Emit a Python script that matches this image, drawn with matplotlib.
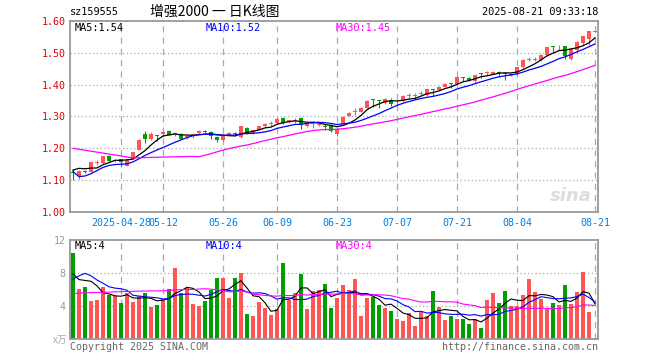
import numpy as np
import pandas as pd
import matplotlib
matplotlib.use('Agg')
import matplotlib.pyplot as plt

# ---------------- data ----------------
holidays = ['2025-05-01', '2025-05-02', '2025-05-05', '2025-06-02']
dates = [d.strftime('%Y-%m-%d') for d in pd.bdate_range('2025-04-16', '2025-08-21')
         if d.strftime('%Y-%m-%d') not in holidays]

opens = [1.127, 1.114, 1.128, 1.127, 1.154, 1.154, 1.175, 1.160, 1.167, 1.146,
         1.166, 1.196, 1.246, 1.230, 1.241, 1.246, 1.253, 1.244, 1.246, 1.235,
         1.240, 1.248, 1.256, 1.250, 1.236, 1.225, 1.243, 1.248, 1.236, 1.265,
         1.248, 1.259, 1.269, 1.278, 1.280, 1.295, 1.283, 1.287, 1.296, 1.269,
         1.277, 1.274, 1.268, 1.269, 1.246, 1.278, 1.301, 1.314, 1.314, 1.328,
         1.355, 1.351, 1.341, 1.352, 1.344, 1.348, 1.364, 1.364, 1.372, 1.366,
         1.385, 1.383, 1.394, 1.404, 1.402, 1.424, 1.422, 1.411, 1.437, 1.436,
         1.435, 1.438, 1.437, 1.428, 1.433, 1.454, 1.479, 1.479, 1.476, 1.493,
         1.521, 1.520, 1.520, 1.482, 1.509, 1.530, 1.545, 1.566]
highs = [1.135, 1.131, 1.131, 1.158, 1.162, 1.177, 1.179, 1.167, 1.168, 1.166,
         1.189, 1.228, 1.254, 1.250, 1.241, 1.254, 1.258, 1.251, 1.248, 1.242,
         1.248, 1.258, 1.258, 1.254, 1.237, 1.240, 1.250, 1.252, 1.270, 1.267,
         1.259, 1.271, 1.280, 1.285, 1.295, 1.297, 1.290, 1.296, 1.298, 1.282,
         1.286, 1.280, 1.276, 1.276, 1.263, 1.300, 1.314, 1.326, 1.330, 1.352,
         1.356, 1.351, 1.358, 1.358, 1.352, 1.366, 1.374, 1.374, 1.380, 1.387,
         1.385, 1.396, 1.404, 1.404, 1.427, 1.425, 1.424, 1.431, 1.437, 1.444,
         1.443, 1.442, 1.437, 1.436, 1.456, 1.480, 1.486, 1.486, 1.495, 1.520,
         1.521, 1.526, 1.522, 1.514, 1.537, 1.554, 1.570, 1.570]
lows = [1.099, 1.104, 1.121, 1.125, 1.148, 1.152, 1.158, 1.157, 1.145, 1.144,
        1.165, 1.194, 1.218, 1.226, 1.222, 1.236, 1.242, 1.240, 1.228, 1.228,
        1.232, 1.246, 1.248, 1.229, 1.219, 1.223, 1.241, 1.240, 1.233, 1.246,
        1.246, 1.258, 1.267, 1.270, 1.278, 1.277, 1.281, 1.280, 1.262, 1.268,
        1.264, 1.270, 1.258, 1.252, 1.240, 1.276, 1.300, 1.305, 1.313, 1.326,
        1.330, 1.326, 1.340, 1.334, 1.332, 1.346, 1.357, 1.356, 1.366, 1.364,
        1.364, 1.380, 1.392, 1.388, 1.400, 1.410, 1.413, 1.405, 1.420, 1.430,
        1.433, 1.425, 1.415, 1.426, 1.431, 1.452, 1.474, 1.474, 1.474, 1.491,
        1.503, 1.510, 1.482, 1.478, 1.500, 1.520, 1.525, 1.564]
closes = [1.124, 1.129, 1.126, 1.156, 1.157, 1.175, 1.161, 1.163, 1.156, 1.164,
          1.187, 1.227, 1.230, 1.245, 1.240, 1.252, 1.243, 1.246, 1.230, 1.238,
          1.246, 1.256, 1.250, 1.238, 1.225, 1.238, 1.248, 1.246, 1.269, 1.248,
          1.257, 1.269, 1.278, 1.281, 1.293, 1.280, 1.288, 1.289, 1.272, 1.280,
          1.280, 1.277, 1.266, 1.256, 1.261, 1.299, 1.312, 1.317, 1.328, 1.350,
          1.353, 1.349, 1.356, 1.339, 1.347, 1.364, 1.367, 1.367, 1.375, 1.385,
          1.382, 1.394, 1.402, 1.402, 1.425, 1.421, 1.415, 1.429, 1.435, 1.439,
          1.441, 1.436, 1.435, 1.433, 1.454, 1.478, 1.482, 1.482, 1.493, 1.518,
          1.519, 1.523, 1.490, 1.512, 1.535, 1.552, 1.568, 1.568]
# volume in 万 (10k) units
volumes = [10.48, 6.12, 6.36, 4.56, 4.68, 6.36, 5.36, 5.20, 4.32, 5.60,
           4.44, 5.16, 5.56, 3.88, 4.08, 4.88, 6.12, 8.64, 5.52, 6.20,
           4.20, 3.96, 4.60, 5.88, 7.44, 7.44, 4.96, 7.44, 8.04, 3.00,
           2.76, 4.44, 3.72, 2.88, 3.60, 9.24, 4.68, 5.52, 7.92, 3.60,
           5.76, 5.88, 6.72, 3.72, 4.92, 6.60, 5.88, 7.32, 2.76, 4.92,
           5.04, 4.08, 3.72, 3.36, 2.40, 2.16, 3.12, 1.56, 3.24, 2.76,
           5.76, 3.84, 2.28, 2.76, 2.40, 2.40, 1.80, 2.40, 1.32, 4.68,
           5.52, 4.32, 5.76, 3.96, 3.96, 5.28, 7.32, 5.64, 4.80, 3.60,
           4.32, 4.08, 6.60, 4.20, 5.64, 8.16, 3.24, 0.12]
# closes / volumes of the 29 sessions before the first bar (feed the moving averages)
prior_closes = [1.219, 1.216, 1.246, 1.247, 1.265, 1.251, 1.253, 1.246, 1.254, 1.277,
                1.213, 1.216, 1.231, 1.226, 1.238, 1.229, 1.232, 1.216, 1.224, 1.232,
                1.289, 1.106, 1.086, 1.057, 1.075, 1.101, 1.133, 1.146, 1.154]
prior_volumes = [4.1, 5.3, 3.8, 4.4, 5.6, 4.9, 4.2, 3.6, 4.8, 3.9,
                 4.5, 5.1, 3.5, 4.0, 4.6, 5.2, 6.3, 4.7, 5.0, 4.9,
                 2.12, 3.36, 7.56, 9.68, 10.36, 9.6, 6.86, 5.06, 7.48]

tick_dates = ['2025-04-28', '2025-05-12', '2025-05-26', '2025-06-09', '2025-06-23',
              '2025-07-07', '2025-07-21', '2025-08-04', '2025-08-21']
tick_labels = ['2025-04-28', '05-12', '05-26', '06-09', '06-23', '07-07', '07-21', '08-04', '08-21']
price_ticks = [1.00, 1.10, 1.20, 1.30, 1.40, 1.50, 1.60]
vol_ticks = [4, 8, 12]
ma_periods = [5, 10, 30]
ma_colors = ['#000000', '#0000ff', '#ff00ff']
ma_labels = ['MA5:1.54', 'MA10:1.52', 'MA30:1.45']
vol_ma_labels = ['MA5:4', 'MA10:4', 'MA30:4']
title_code = 'sz159555'
title_text = '增强2000 一 日K线图'
timestamp = '2025-08-21 09:33:18'

# ---------------- figure ----------------
W, H = 660, 360
fig = plt.figure(figsize=(W / 100, H / 100), dpi=100)
fig.patch.set_facecolor('white')
mono = 'DejaVu Sans Mono'
RED = '#ff5555'
GREEN = '#00a000'


def px_ax(l, t, r, b):
    return fig.add_axes([l / W, 1 - b / H, (r - l) / W, (b - t) / H])


ax = px_ax(70, 21, 598, 212)
axv = px_ax(70, 240, 598, 339)

n = len(closes)
x = np.arange(n)
o = np.array(opens); c = np.array(closes); h = np.array(highs); l = np.array(lows)
v = np.array(volumes)
up = c >= o
cols = np.where(up, RED, GREEN)

tick_idx = [dates.index(d) for d in tick_dates]

for a in (ax, axv):
    a.set_xlim(-0.5, n - 0.5)
    for ti in tick_idx:
        a.axvline(ti, color='#aaaaaa', lw=0.9, ls=(0, (5, 4)), zorder=0)
    for s in a.spines.values():
        s.set_color('#999999')
        s.set_linewidth(1.3)
    a.tick_params(length=0)

# price panel
ax.set_ylim(price_ticks[0], price_ticks[-1])
for p in price_ticks[1:-1]:
    ax.axhline(p, color='#aaaaaa', lw=0.9, ls=(0, (1, 2)), zorder=0)
ax.vlines(x, l, h, colors=cols, lw=0.8, zorder=2)
body_b = np.minimum(o, c)
body_h = np.maximum(np.abs(c - o), 0.0028)
ax.bar(x, body_h, bottom=body_b, width=0.82, color=cols, linewidth=0, zorder=3)

full_c = pd.Series(prior_closes + closes)
for per, col in zip(ma_periods, ma_colors):
    ma = full_c.rolling(per).mean().values[-n:]
    ax.plot(x, ma, color=col, lw=0.9, zorder=4)

ax.set_yticks(price_ticks)
ax.set_yticklabels(['%.2f' % p for p in price_ticks], color='#e00000', fontsize=7.2, fontfamily=mono)
ax.tick_params(axis='y', pad=3)
ax.set_xticks(tick_idx)
ax.set_xticklabels(tick_labels, color='#0080e0', fontsize=7.2, fontfamily=mono)
ax.tick_params(axis='x', pad=4)

ax.text(0.988, 0.035, 'sina', transform=ax.transAxes, ha='right', va='bottom',
        color='#dddddd', fontsize=13, style='italic', fontweight='bold', zorder=1)

# volume panel
axv.set_ylim(0, vol_ticks[-1])
for vt in vol_ticks[:-1]:
    axv.axhline(vt, color='#aaaaaa', lw=0.9, ls=(0, (1, 2)), zorder=0)
vcols = np.where(up, RED, GREEN)
axv.bar(x, v, width=0.82, color=vcols, linewidth=0, zorder=2)
full_v = pd.Series(prior_volumes + volumes)
for per, col in zip(ma_periods, ma_colors):
    ma = full_v.rolling(per).mean().values[-n:]
    axv.plot(x, ma, color=col, lw=0.8, zorder=4)
axv.set_xticks([])
axv.set_yticks(vol_ticks)
axv.set_yticklabels([str(t) for t in vol_ticks], color='#999999', fontsize=7.2, fontfamily=mono)
axv.tick_params(axis='y', pad=3)


def ftext(px, py, s, **kw):
    fig.text(px / W, 1 - py / H, s, va='center', **kw)


# header
ftext(70, 12, title_code, ha='left', fontsize=7.4, fontfamily=mono, color='#000000')
ftext(150, 12, title_text, ha='left', fontsize=10, family=['Noto Sans CJK SC', 'DejaVu Sans'], color='#000000')
ftext(598, 12, timestamp, ha='right', fontsize=7.4, fontfamily=mono, color='#000000')

# MA legends
for xp, s, col in zip([75, 206, 336], ma_labels, ma_colors):
    ftext(xp, 28, s, ha='left', fontsize=7.4, fontfamily=mono, color=col)
for xp, s, col in zip([75, 206, 336], vol_ma_labels, ma_colors):
    ftext(xp, 246, s, ha='left', fontsize=7.4, fontfamily=mono, color=col)

ftext(67, 340, 'x万', ha='right', fontsize=7, family=['Noto Sans CJK SC', 'DejaVu Sans'], color='#aaaaaa')

# footer
ftext(70, 347, 'Copyright 2025 SINA.COM', ha='left', fontsize=7.2, fontfamily=mono, color='#666666')
ftext(598, 347, 'http://finance.sina.com.cn', ha='right', fontsize=7.2, fontfamily=mono, color='#666666')

fig.savefig('out.png', dpi=100, facecolor='white')
